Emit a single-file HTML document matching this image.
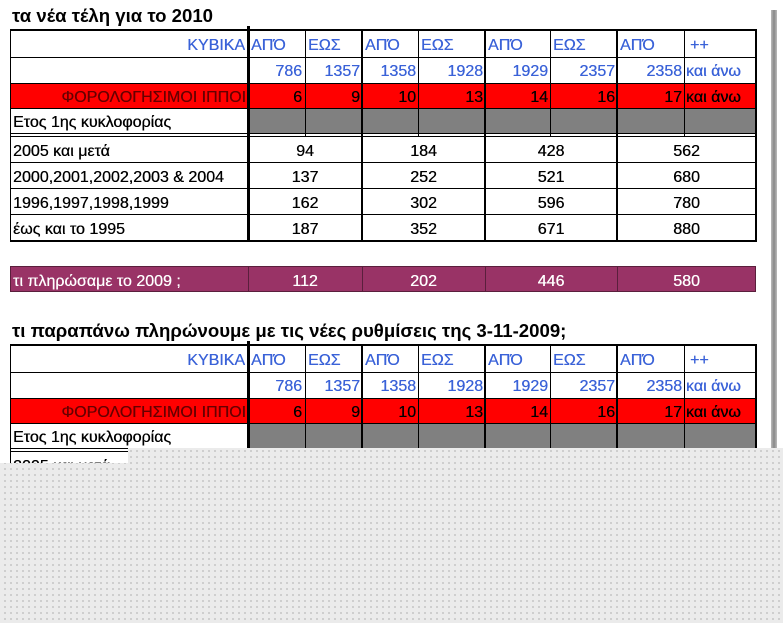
<!DOCTYPE html>
<html><head><meta charset="utf-8">
<style>
*{margin:0;padding:0;box-sizing:border-box}
body{width:783px;height:623px;overflow:hidden;background:#fff;position:relative;font-family:"Liberation Sans",Arial,sans-serif;}
.a{position:absolute}
.h{position:absolute;height:1px;background:#000}
.v{position:absolute;width:1px;background:#000}
.t{position:absolute;font-size:16px;line-height:26px;white-space:nowrap;overflow:hidden;color:#000;padding-top:2px;text-shadow:0.3px 0 0 currentColor}
.b{color:#3a62d8}
.r{text-align:right}
.c{text-align:center}
.title{position:absolute;font-size:18.6px;font-weight:bold;white-space:nowrap;left:12px}
</style></head><body>

<div class="a" style="left:771px;top:10px;width:6px;height:440px;background:linear-gradient(90deg,#bbb,#888,#bbb)"></div>

<div class="title" style="top:5px">τα νέα τέλη για το 2010</div>

<!-- TABLE 1 -->
<div class="a" style="left:10px;top:83px;width:746px;height:25px;background:#f00"></div>
<div class="a" style="left:248px;top:108px;width:508px;height:25px;background:#808080"></div>
<div class="h" style="left:10px;top:29px;width:747px;height:2px"></div>
<div class="h" style="left:10px;top:57px;width:746px"></div>
<div class="h" style="left:10px;top:83px;width:746px"></div>
<div class="h" style="left:10px;top:108px;width:746px"></div>
<div class="h" style="left:10px;top:133px;width:746px"></div>
<div class="h" style="left:10px;top:136px;width:746px"></div>
<div class="h" style="left:10px;top:162px;width:746px"></div>
<div class="h" style="left:10px;top:188px;width:746px"></div>
<div class="h" style="left:10px;top:214px;width:746px"></div>
<div class="h" style="left:10px;top:240px;width:747px;height:2px"></div>
<div class="v" style="left:10px;top:30px;height:211px"></div>
<div class="v" style="left:755px;top:30px;height:211px;width:2px"></div>
<div class="v" style="left:247px;top:26px;height:216px;width:3px"></div>
<div class="v" style="left:361px;top:30px;height:212px;width:2px"></div>
<div class="v" style="left:484px;top:30px;height:212px;width:2px"></div>
<div class="v" style="left:616px;top:30px;height:212px;width:2px"></div>
<div class="v" style="left:305px;top:30px;height:106px"></div>
<div class="v" style="left:418px;top:30px;height:106px"></div>
<div class="v" style="left:550px;top:30px;height:106px"></div>
<div class="v" style="left:684px;top:30px;height:106px"></div>

<div class="t b r" style="left:12px;top:31px;width:233px">ΚΥΒΙΚΑ</div>
<div class="t b" style="left:251px;top:31px">ΑΠΌ</div>
<div class="t b" style="left:308px;top:31px">ΕΩΣ</div>
<div class="t b" style="left:365px;top:31px">ΑΠΌ</div>
<div class="t b" style="left:421px;top:31px">ΕΩΣ</div>
<div class="t b" style="left:488px;top:31px">ΑΠΌ</div>
<div class="t b" style="left:553px;top:31px">ΕΩΣ</div>
<div class="t b" style="left:620px;top:31px">ΑΠΌ</div>
<div class="t b" style="left:690px;top:31px">++</div>

<div class="t b r" style="left:250px;top:57px;width:52px">786</div>
<div class="t b r" style="left:306px;top:57px;width:54px">1357</div>
<div class="t b r" style="left:363px;top:57px;width:53px">1358</div>
<div class="t b r" style="left:419px;top:57px;width:64px">1928</div>
<div class="t b r" style="left:486px;top:57px;width:62px">1929</div>
<div class="t b r" style="left:551px;top:57px;width:64px">2357</div>
<div class="t b r" style="left:618px;top:57px;width:64px">2358</div>
<div class="t b" style="left:686px;top:57px">και άνω</div>

<div class="t r" style="left:12px;top:83px;width:234px;color:#600;line-height:25px">ΦΟΡΟΛΟΓΗΣΙΜΟΙ ΙΠΠΟΙ</div>
<div class="t r" style="left:250px;top:83px;width:52px;line-height:25px">6</div>
<div class="t r" style="left:306px;top:83px;width:54px;line-height:25px">9</div>
<div class="t r" style="left:363px;top:83px;width:53px;line-height:25px">10</div>
<div class="t r" style="left:419px;top:83px;width:64px;line-height:25px">13</div>
<div class="t r" style="left:486px;top:83px;width:62px;line-height:25px">14</div>
<div class="t r" style="left:551px;top:83px;width:64px;line-height:25px">16</div>
<div class="t r" style="left:618px;top:83px;width:64px;line-height:25px">17</div>
<div class="t" style="left:686px;top:83px;line-height:25px">και άνω</div>

<div class="t" style="left:13px;top:108px;line-height:25px">Ετος 1ης κυκλοφορίας</div>

<div class="t" style="left:13px;top:137px">2005 και μετά</div>
<div class="t" style="left:13px;top:163px">2000,2001,2002,2003 &amp; 2004</div>
<div class="t" style="left:13px;top:189px">1996,1997,1998,1999</div>
<div class="t" style="left:13px;top:215px">έως και το 1995</div>

<div class="t c" style="left:249px;top:137px;width:112px">94</div>
<div class="t c" style="left:363px;top:137px;width:121px">184</div>
<div class="t c" style="left:486px;top:137px;width:130px">428</div>
<div class="t c" style="left:618px;top:137px;width:137px">562</div>
<div class="t c" style="left:249px;top:163px;width:112px">137</div>
<div class="t c" style="left:363px;top:163px;width:121px">252</div>
<div class="t c" style="left:486px;top:163px;width:130px">521</div>
<div class="t c" style="left:618px;top:163px;width:137px">680</div>
<div class="t c" style="left:249px;top:189px;width:112px">162</div>
<div class="t c" style="left:363px;top:189px;width:121px">302</div>
<div class="t c" style="left:486px;top:189px;width:130px">596</div>
<div class="t c" style="left:618px;top:189px;width:137px">780</div>
<div class="t c" style="left:249px;top:215px;width:112px">187</div>
<div class="t c" style="left:363px;top:215px;width:121px">352</div>
<div class="t c" style="left:486px;top:215px;width:130px">671</div>
<div class="t c" style="left:618px;top:215px;width:137px">880</div>

<!-- purple row -->
<div class="a" style="left:10px;top:266px;width:746px;height:26px;background:#993366;border:1px solid #5a1f3c"></div>
<div class="v" style="left:248px;top:266px;height:26px;background:#5a1f3c"></div>
<div class="v" style="left:362px;top:266px;height:26px;background:#5a1f3c"></div>
<div class="v" style="left:485px;top:266px;height:26px;background:#5a1f3c"></div>
<div class="v" style="left:617px;top:266px;height:26px;background:#5a1f3c"></div>
<div class="t" style="left:13px;top:267px;color:#fff;line-height:25px">τι πληρώσαμε το 2009 ;</div>
<div class="t c" style="left:249px;top:267px;width:112px;color:#fff;line-height:25px">112</div>
<div class="t c" style="left:363px;top:267px;width:121px;color:#fff;line-height:25px">202</div>
<div class="t c" style="left:486px;top:267px;width:130px;color:#fff;line-height:25px">446</div>
<div class="t c" style="left:618px;top:267px;width:137px;color:#fff;line-height:25px">580</div>

<div class="title" style="top:320px">τι παραπάνω πληρώνουμε με τις νέες ρυθμίσεις της 3-11-2009;</div>

<!-- TABLE 2 -->
<div class="a" style="left:10px;top:398px;width:746px;height:25px;background:#f00"></div>
<div class="a" style="left:248px;top:423px;width:508px;height:25px;background:#808080"></div>
<div class="h" style="left:10px;top:344px;width:747px;height:2px"></div>
<div class="h" style="left:10px;top:372px;width:746px"></div>
<div class="h" style="left:10px;top:398px;width:746px"></div>
<div class="h" style="left:10px;top:423px;width:746px"></div>
<div class="h" style="left:10px;top:448px;width:746px"></div>
<div class="h" style="left:10px;top:451px;width:746px"></div>
<div class="v" style="left:10px;top:345px;height:120px"></div>
<div class="v" style="left:755px;top:345px;height:120px;width:2px"></div>
<div class="v" style="left:247px;top:341px;height:124px;width:3px"></div>
<div class="v" style="left:361px;top:345px;height:120px;width:2px"></div>
<div class="v" style="left:484px;top:345px;height:120px;width:2px"></div>
<div class="v" style="left:616px;top:345px;height:120px;width:2px"></div>
<div class="v" style="left:305px;top:345px;height:106px"></div>
<div class="v" style="left:418px;top:345px;height:106px"></div>
<div class="v" style="left:550px;top:345px;height:106px"></div>
<div class="v" style="left:684px;top:345px;height:106px"></div>

<div class="t b r" style="left:12px;top:346px;width:233px">ΚΥΒΙΚΑ</div>
<div class="t b" style="left:251px;top:346px">ΑΠΌ</div>
<div class="t b" style="left:308px;top:346px">ΕΩΣ</div>
<div class="t b" style="left:365px;top:346px">ΑΠΌ</div>
<div class="t b" style="left:421px;top:346px">ΕΩΣ</div>
<div class="t b" style="left:488px;top:346px">ΑΠΌ</div>
<div class="t b" style="left:553px;top:346px">ΕΩΣ</div>
<div class="t b" style="left:620px;top:346px">ΑΠΌ</div>
<div class="t b" style="left:690px;top:346px">++</div>

<div class="t b r" style="left:250px;top:372px;width:52px">786</div>
<div class="t b r" style="left:306px;top:372px;width:54px">1357</div>
<div class="t b r" style="left:363px;top:372px;width:53px">1358</div>
<div class="t b r" style="left:419px;top:372px;width:64px">1928</div>
<div class="t b r" style="left:486px;top:372px;width:62px">1929</div>
<div class="t b r" style="left:551px;top:372px;width:64px">2357</div>
<div class="t b r" style="left:618px;top:372px;width:64px">2358</div>
<div class="t b" style="left:686px;top:372px">και άνω</div>

<div class="t r" style="left:12px;top:398px;width:234px;color:#600;line-height:25px">ΦΟΡΟΛΟΓΗΣΙΜΟΙ ΙΠΠΟΙ</div>
<div class="t r" style="left:250px;top:398px;width:52px;line-height:25px">6</div>
<div class="t r" style="left:306px;top:398px;width:54px;line-height:25px">9</div>
<div class="t r" style="left:363px;top:398px;width:53px;line-height:25px">10</div>
<div class="t r" style="left:419px;top:398px;width:64px;line-height:25px">13</div>
<div class="t r" style="left:486px;top:398px;width:62px;line-height:25px">14</div>
<div class="t r" style="left:551px;top:398px;width:64px;line-height:25px">16</div>
<div class="t r" style="left:618px;top:398px;width:64px;line-height:25px">17</div>
<div class="t" style="left:686px;top:398px;line-height:25px">και άνω</div>
<div class="t" style="left:13px;top:423px;line-height:25px">Ετος 1ης κυκλοφορίας</div>
<div class="t" style="left:13px;top:452px">2005 και μετά</div>

<!-- dotted overlay -->
<div class="a" style="left:128px;top:448px;width:655px;height:175px;background-color:#ebebeb;background-image:radial-gradient(#c8c8c8 0.8px,transparent 1.2px);background-size:6px 6px"></div>
<div class="a" style="left:0;top:463px;width:783px;height:160px;background-color:#ebebeb;background-image:radial-gradient(#c8c8c8 0.8px,transparent 1.2px);background-size:6px 6px;background-position:2px 3px"></div>
</body></html>
